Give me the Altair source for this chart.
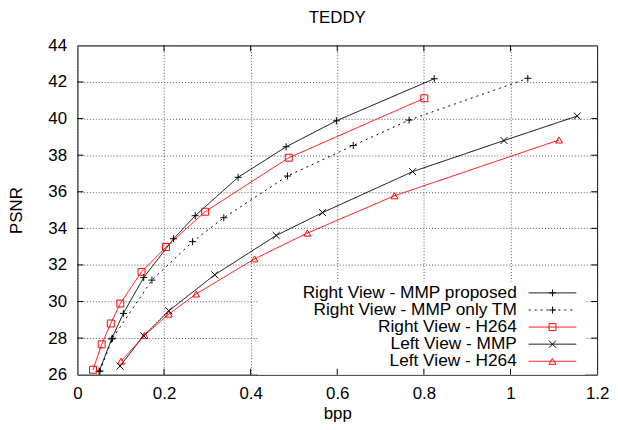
import altair as alt
import pandas as pd

series_names = [
    "Right View - MMP proposed",
    "Right View - MMP only TM",
    "Right View - H264",
    "Left View - MMP",
    "Left View - H264",
]

rv_mmp_bpp = [0.050, 0.079, 0.106, 0.153, 0.222, 0.272, 0.371, 0.482, 0.598, 0.824]
rv_mmp_psnr = [26.18, 27.95, 29.35, 31.31, 33.43, 34.69, 36.79, 38.46, 39.88, 42.18]

rv_tm_bpp = [0.052, 0.081, 0.172, 0.266, 0.338, 0.485, 0.637, 0.766, 1.040]
rv_tm_psnr = [26.2, 27.99, 31.17, 33.27, 34.58, 36.86, 38.53, 39.92, 42.2]

rv_h264_bpp = [0.036, 0.056, 0.077, 0.099, 0.148, 0.2045, 0.295, 0.488, 0.801]
rv_h264_psnr = [26.27, 27.66, 28.8, 29.89, 31.62, 32.98, 34.91, 37.86, 41.11]

lv_mmp_bpp = [0.0985, 0.153, 0.211, 0.317, 0.459, 0.566, 0.774, 0.985, 1.154]
lv_mmp_psnr = [26.47, 28.13, 29.49, 31.46, 33.61, 34.86, 37.10, 38.80, 40.14]

lv_h264_bpp = [0.1008, 0.155, 0.211, 0.274, 0.409, 0.531, 0.732, 1.112]
lv_h264_psnr = [26.74, 28.15, 29.31, 30.41, 32.33, 33.74, 35.78, 38.83]

x_ticks = [0, 0.2, 0.4, 0.6, 0.8, 1.0, 1.2]
y_ticks = [26, 28, 30, 32, 34, 36, 38, 40, 42, 44]

colors = ["#000000", "#000000", "#ff0000", "#000000", "#ff0000"]
dashes = [[1, 0], [2, 4], [1, 0], [1, 0], [1, 0]]
PLUS = "M-1,0L1,0M0,-1L0,1"
XSH = "M-1,-1L1,1M-1,1L1,-1"
shapes = [PLUS, PLUS, "square", XSH, "triangle-up"]

all_x = [rv_mmp_bpp, rv_tm_bpp, rv_h264_bpp, lv_mmp_bpp, lv_h264_bpp]
all_y = [rv_mmp_psnr, rv_tm_psnr, rv_h264_psnr, lv_mmp_psnr, lv_h264_psnr]
rows = []
for name, xs_, ys_ in zip(series_names, all_x, all_y):
    for i, (a, b) in enumerate(zip(xs_, ys_)):
        rows.append({"series": name, "bpp": a, "psnr": b, "i": i})
df = pd.DataFrame(rows)

W, H = 524, 332
FONT = "Liberation Sans"
FS = 17

color_scale = alt.Scale(domain=series_names, range=colors)
dash_scale = alt.Scale(domain=series_names, range=dashes)
shape_scale = alt.Scale(domain=series_names, range=shapes)

xs = alt.Scale(domain=[0, 1.2], nice=False, zero=False)
ys = alt.Scale(domain=[26, 44], nice=False, zero=False)

x_axis = alt.Axis(values=x_ticks, title="bpp", grid=True, ticks=False, domain=False,
                  labelPadding=11, labelOverlap=False, labelFlush=False,
                  titleX=W / 2, titleY=39, titleBaseline="middle", format="~g")
y_axis = alt.Axis(values=y_ticks, title="PSNR", grid=True, ticks=False, domain=False,
                  labelPadding=11, labelOverlap=False, labelFlush=False,
                  titleX=-61, titleY=H / 2, titleAngle=-90,
                  titleAlign="center", titleBaseline="middle")

base = alt.Chart(df)

# legend background box (covers grid like gnuplot's key)
legend_bg = alt.Chart(pd.DataFrame({"a": [0]})).mark_rect(color="white").encode(
    x=alt.value(182), x2=alt.value(512), y=alt.value(238), y2=alt.value(H)
)

lines = base.mark_line(strokeWidth=1).encode(
    x=alt.X("bpp:Q", scale=xs, axis=x_axis),
    y=alt.Y("psnr:Q", scale=ys, axis=y_axis),
    color=alt.Color("series:N", scale=color_scale, legend=None),
    strokeDash=alt.StrokeDash("series:N", scale=dash_scale, legend=None),
    detail="series:N",
    order="i:Q",
)

points = base.mark_point(filled=False, strokeWidth=1, size=49, opacity=1).encode(
    x=alt.X("bpp:Q", scale=xs, axis=x_axis),
    y=alt.Y("psnr:Q", scale=ys, axis=y_axis),
    color=alt.Color("series:N", scale=color_scale, legend=None),
    shape=alt.Shape("series:N", scale=shape_scale, legend=None),
)

# inward tick marks (gnuplot style)
xt = pd.DataFrame({"t": x_ticks[1:-1]})
yt = pd.DataFrame({"t": y_ticks[1:-1]})
tick_b = alt.Chart(xt).mark_rule(color="black").encode(
    x=alt.X("t:Q", scale=xs, axis=x_axis), y=alt.value(H), y2=alt.value(H - 6))
tick_t = alt.Chart(xt).mark_rule(color="black").encode(
    x=alt.X("t:Q", scale=xs, axis=x_axis), y=alt.value(0), y2=alt.value(6))
tick_l = alt.Chart(yt).mark_rule(color="black").encode(
    y=alt.Y("t:Q", scale=ys, axis=y_axis), x=alt.value(0), x2=alt.value(6))
tick_r = alt.Chart(yt).mark_rule(color="black").encode(
    y=alt.Y("t:Q", scale=ys, axis=y_axis), x=alt.value(W), x2=alt.value(W - 6))

# custom gnuplot-like key: labels on left, samples on right
leg_df = pd.DataFrame({"series": series_names, "k": list(range(len(series_names)))})
leg_base = alt.Chart(leg_df).transform_calculate(py="249.5 + 17.25 * datum.k")
leg_text = leg_base.mark_text(align="right", baseline="middle", font=FONT, fontSize=17.4,
                              color="black").encode(
    x=alt.value(443), y=alt.Y("py:Q", scale=None), text="series:N")
leg_line = leg_base.mark_rule(strokeWidth=1).encode(
    x=alt.value(455), x2=alt.value(503), y=alt.Y("py:Q", scale=None),
    color=alt.Color("series:N", scale=color_scale, legend=None),
    strokeDash=alt.StrokeDash("series:N", scale=dash_scale, legend=None),
)
leg_pt = leg_base.mark_point(filled=False, strokeWidth=1, size=49, opacity=1).encode(
    x=alt.value(479), y=alt.Y("py:Q", scale=None),
    color=alt.Color("series:N", scale=color_scale, legend=None),
    shape=alt.Shape("series:N", scale=shape_scale, legend=None),
)

chart = alt.layer(
    legend_bg, lines, points, tick_b, tick_t, tick_l, tick_r, leg_text, leg_line, leg_pt
).properties(
    width=W, height=H,
    title=alt.TitleParams(text="TEDDY", fontSize=FS, fontWeight="normal", font=FONT,
                          color="black", offset=10, frame="group"),
    autosize=alt.AutoSizeParams(type="none"),
    padding={"left": 70, "top": 36, "right": 13, "bottom": 48},
).configure_view(
    stroke="black", strokeWidth=1
).configure_axis(
    labelFont=FONT, labelFontSize=FS, labelColor="black", labelOverlap=False,
    titleFont=FONT, titleFontSize=FS, titleFontWeight="normal", titleColor="black",
    gridColor="#555555", gridDash=[1, 2], gridWidth=1, gridOpacity=1,
)

chart.save("out.html", embed_options={"renderer": "svg", "actions": False})
